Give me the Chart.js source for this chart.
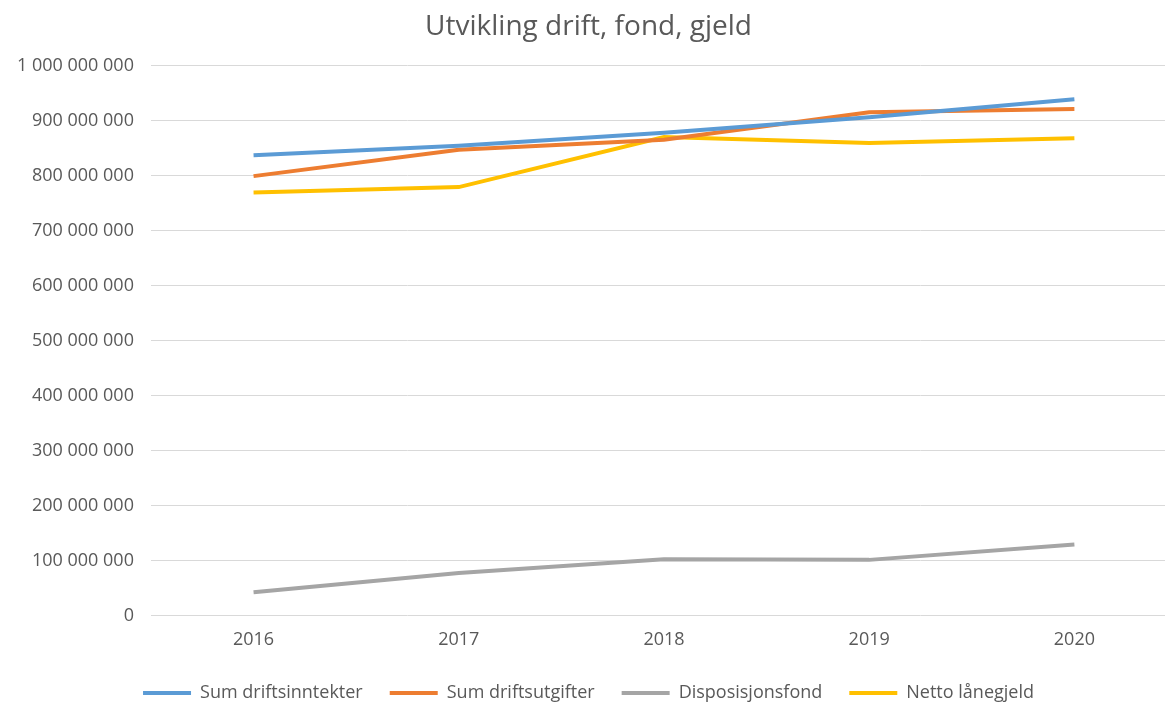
<!DOCTYPE html>
<html>
<head>
<meta charset="utf-8">
<script src="https://cdn.jsdelivr.net/npm/chart.js@4/dist/chart.umd.min.js"></script>
<style>
  html, body { margin: 0; padding: 0; background: #fff; overflow: hidden; }
  #wrap { width: 1177px; height: 712px; }
</style>
</head>
<body>
<div id="wrap"><canvas id="chart"></canvas></div>
<script>
// Data
const years = ['2016', '2017', '2018', '2019', '2020'];
const driftsinntekter = [837000000, 854000000, 878000000, 906000000, 939000000];
const driftsutgifter = [799000000, 847000000, 865000000, 915000000, 921000000];
const disposisjonsfond = [42000000, 77000000, 102000000, 101000000, 129000000];
const nettoLanegjeld = [769000000, 779000000, 870000000, 859000000, 868000000];

const yMin = 0;
const yMax = 1000000000;
const yStep = 100000000;

const textColor = '#595959';
const fontFamily = "'Open Sans', 'Liberation Sans', sans-serif";

function fmt(val) {
    return String(Math.round(val)).replace(/\B(?=(\d{3})+(?!\d))/g, ' ');
}

function series(label, data, color) {
    return {
        label: label,
        data: data,
        borderColor: color,
        backgroundColor: color,
        borderWidth: 4,
        pointRadius: 0,
        pointHoverRadius: 0,
        tension: 0,
        fill: false
    };
}

new Chart(document.getElementById('chart'), {
    type: 'line',
    data: {
        labels: years,
        datasets: [
            series('Sum driftsinntekter', driftsinntekter, '#5B9BD5'),
            series('Sum driftsutgifter', driftsutgifter, '#ED7D31'),
            series('Disposisjonsfond', disposisjonsfond, '#A5A5A5'),
            series('Netto lånegjeld', nettoLanegjeld, '#FFC000')
        ]
    },
    options: {
        responsive: true,
        maintainAspectRatio: false,
        animation: false,
        layout: { padding: { left: 0, right: 0, top: 10, bottom: 0 } },
        plugins: {
            title: {
                display: true,
                text: 'Utvikling drift, fond, gjeld',
                color: textColor,
                font: { family: fontFamily, size: 28, weight: 'normal' },
                padding: { top: 0, bottom: 22 }
            },
            legend: {
                position: 'bottom',
                labels: {
                    color: textColor,
                    font: { family: fontFamily, size: 18 },
                    usePointStyle: true,
                    pointStyle: 'line',
                    pointStyleWidth: 48,
                    padding: 27
                }
            },
            tooltip: { enabled: false }
        },
        scales: {
            x: {
                offset: true,
                grid: { display: false },
                border: { display: false },
                ticks: { color: textColor, font: { family: fontFamily, size: 18 }, padding: 6 }
            },
            y: {
                min: yMin,
                max: yMax,
                border: { display: false },
                grid: { color: '#D9D9D9', lineWidth: 1, drawTicks: false },
                ticks: {
                    stepSize: yStep,
                    color: textColor,
                    font: { family: fontFamily, size: 18 },
                    padding: 17,
                    callback: (val) => fmt(val)
                }
            }
        }
    }
});
</script>
</body>
</html>
